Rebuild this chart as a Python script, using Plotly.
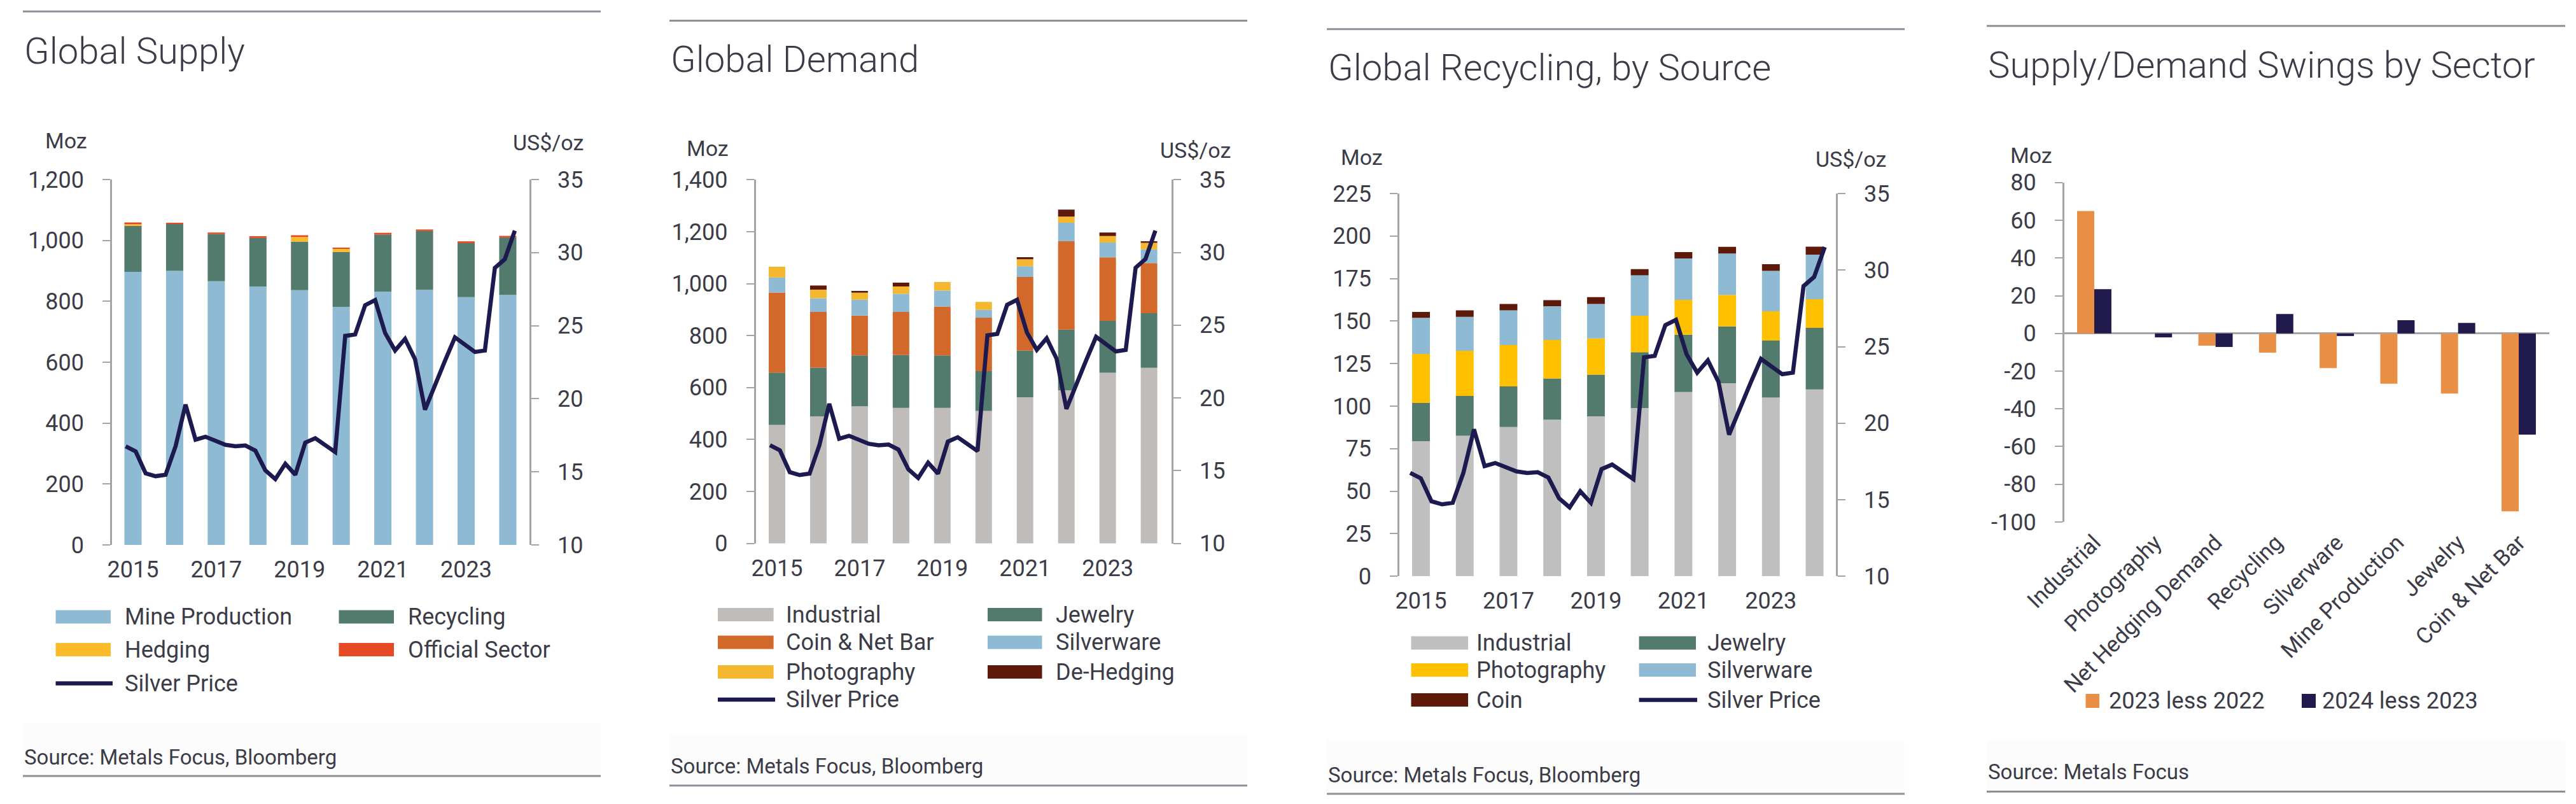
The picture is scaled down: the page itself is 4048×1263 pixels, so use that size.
import plotly.graph_objects as go

W, H = 4048, 1263

# ---------------- data ----------------
years = list(range(2015, 2025))
quarters = [f"Q{q} {y}" for y in years for q in range(1, 5)]
silver_price = [16.75, 16.4, 14.9, 14.7, 14.8, 16.75, 19.6, 17.2, 17.4, 17.1,
                16.85, 16.75, 16.8, 16.45, 15.1, 14.5, 15.55, 14.8, 17.0, 17.3,
                16.85, 16.35, 24.3, 24.4, 26.4, 26.75, 24.5, 23.3, 24.1, 22.7,
                19.25, 21.0, 22.6, 24.2, 23.7, 23.2, 23.3, 28.95, 29.55, 31.5]

supply_mine = [897, 900, 866, 849, 837, 782, 832, 838, 814, 821]
supply_recycling = [152, 154, 155, 159, 159, 180, 187, 193, 177, 189]
supply_hedging = [4, 0, 0, 0, 15, 12, 0, 0, 0, 0]
supply_official = [6, 4, 5, 6, 6, 1, 6, 5, 6, 5]

demand_industrial = [456, 489, 528, 522, 522, 510, 563, 589, 657, 676]
demand_jewelry = [202, 188, 196, 203, 202, 153, 179, 234, 200, 210]
demand_coin_bar = [308, 214, 153, 166, 188, 206, 284, 340, 244, 193]
demand_silverware = [58, 53, 61, 70, 61, 30, 41, 71, 57, 53]
demand_photography = [41, 33, 27, 28, 33, 31, 27, 24, 25, 25]
demand_dehedging = [0, 16, 7, 15, 0, 0, 8, 27, 14, 6]

recyc_industrial = [79.4, 82.6, 87.8, 92.1, 94.0, 98.9, 108.3, 113.5, 105.1, 109.8]
recyc_jewelry = [22.5, 23.4, 23.8, 24.2, 24.5, 32.8, 33.7, 33.4, 33.5, 36.2]
recyc_photography = [28.8, 26.6, 24.3, 22.6, 21.3, 21.5, 20.5, 18.5, 17.2, 16.9]
recyc_silverware = [21.2, 19.9, 20.4, 19.9, 20.3, 23.7, 24.3, 24.3, 23.7, 26.2]
recyc_coin = [3.5, 3.8, 3.8, 3.5, 4.0, 3.7, 3.8, 4.0, 4.0, 4.7]

swing_sectors = ["Industrial", "Photography", "Net Hedging Demand", "Recycling",
                 "Silverware", "Mine Production", "Jewelry", "Coin & Net Bar"]
swing_2023_less_2022 = [64.9, 0.0, -6.5, -10.2, -18.4, -26.7, -31.9, -94.4]
swing_2024_less_2023 = [23.5, -2.1, -7.2, 10.3, -1.4, 7.0, 5.6, -53.7]
swing_ticks = [80, 60, 40, 20, 0, -20, -40, -60, -80, -100]
swing_tick_labels = [str(v) for v in swing_ticks]

# ---------------- style ----------------
FONT = "Roboto, 'Noto Sans', sans-serif"
TXT = "#3c3c48"
AXC = "#a4a4a8"
RULE = "#8e8e96"
NAVY = "#1c1a4f"
BLUE = "#8fbad3"
GREEN = "#527b6d"
C_HEDGE = "#fbbb2b"
C_OFFICIAL = "#e64a24"
GREY = "#c0bcba"
GREY3 = "#bfbfbf"
C_COIN = "#d2692a"
C_PHOTO = "#f5b730"
C_PHOTO3 = "#ffc000"
BROWN = "#5d1a0b"
ORANGE4 = "#e98f45"
NAVY4 = "#211b4d"

TICK = 36
LEG = 36
SRC = 33
LINE_W = 6.5


def X(p):
    return p / W


def Y(p):
    return 1 - p / H


fig = go.Figure()


def add_stack(series, names, colors, width, xa, ya):
    base = [0.0] * len(years)
    for vals, name, col in zip(series, names, colors):
        fig.add_trace(go.Bar(x=years, y=vals, base=list(base), width=width, name=name,
                             marker=dict(color=col, line=dict(width=0)),
                             xaxis=xa, yaxis=ya, showlegend=False))
        base = [b + v for b, v in zip(base, vals)]


def add_price(xa, ya):
    fig.add_trace(go.Scatter(x=quarters, y=silver_price, mode="lines", name="Silver Price",
                             line=dict(color=NAVY, width=LINE_W), xaxis=xa, yaxis=ya,
                             showlegend=False))


# Panel 1
p1_names = ["Mine Production", "Recycling", "Hedging", "Official Sector"]
p1_colors = [BLUE, GREEN, C_HEDGE, C_OFFICIAL]
add_stack([supply_mine, supply_recycling, supply_hedging, supply_official],
          p1_names, p1_colors, 0.413, "x", "y")
add_price("x2", "y2")

# Panel 2
p2_names = ["Industrial", "Jewelry", "Coin & Net Bar", "Silverware", "Photography", "De-Hedging"]
p2_colors = [GREY, GREEN, C_COIN, BLUE, C_PHOTO, BROWN]
add_stack([demand_industrial, demand_jewelry, demand_coin_bar, demand_silverware,
           demand_photography, demand_dehedging], p2_names, p2_colors, 0.40, "x3", "y3")
add_price("x4", "y4")

# Panel 3
p3_names = ["Industrial", "Jewelry", "Photography", "Silverware", "Coin"]
p3_colors = [GREY3, GREEN, C_PHOTO3, BLUE, BROWN]
add_stack([recyc_industrial, recyc_jewelry, recyc_photography, recyc_silverware, recyc_coin],
          p3_names, p3_colors, 0.407, "x5", "y5")
add_price("x6", "y6")

# Panel 4
fig.add_trace(go.Bar(x=swing_sectors, y=swing_2023_less_2022, width=0.283, offset=-0.283,
                     name="2023 less 2022", marker=dict(color=ORANGE4, line=dict(width=0)),
                     xaxis="x7", yaxis="y7", showlegend=False))
fig.add_trace(go.Bar(x=swing_sectors, y=swing_2024_less_2023, width=0.283, offset=0,
                     name="2024 less 2023", marker=dict(color=NAVY4, line=dict(width=0)),
                     xaxis="x7", yaxis="y7", showlegend=False))


def yax(dom, rng, dtick, side="left", overlaying=None, anchor=None, tickformat=",",
        standoff=22):
    d = dict(domain=[Y(dom[1]), Y(dom[0])], range=rng, dtick=dtick, tick0=rng[0],
             showline=True, linecolor=AXC, linewidth=2.5, ticks="outside", ticklen=12,
             tickwidth=2, tickcolor=AXC, showgrid=False, zeroline=False, automargin=False,
             tickfont=dict(family=FONT, size=TICK, color=TXT), tickformat=tickformat,
             side=side, ticklabelstandoff=standoff, fixedrange=True)
    if overlaying:
        d["overlaying"] = overlaying
    if anchor:
        d["anchor"] = anchor
    return d


def xax(dom, rng, anchor, standoff=14):
    return dict(domain=[X(dom[0]), X(dom[1])], range=rng, tick0=2015, dtick=2,
                showline=False, ticks="", showgrid=False, zeroline=False, anchor=anchor,
                automargin=False,
                tickfont=dict(family=FONT, size=TICK, color=TXT), ticklabelstandoff=standoff,
                fixedrange=True)


def qax(rng, overlaying, anchor):
    return dict(type="category", range=rng, overlaying=overlaying, anchor=anchor,
                visible=False, automargin=False, fixedrange=True)


layout = dict(
    width=W, height=H, autosize=False,
    margin=dict(l=0, r=0, t=0, b=0, pad=0, autoexpand=False),
    paper_bgcolor="white", plot_bgcolor="rgba(0,0,0,0)", barmode="overlay",
    font=dict(family=FONT, color=TXT), showlegend=False,
    # panel 1
    xaxis=xax((176, 832), [2014.496, 2024.52], "y"),
    yaxis=yax((282, 856), [0, 1200], 200, anchor="x"),
    xaxis2=qax([-1.371, 40.467], "x", "y2"),
    yaxis2=yax((282, 856), [10, 35], 5, side="right", overlaying="y", anchor="x",
               tickformat="d"),
    # panel 2
    xaxis3=xax((1187.5, 1841), [2014.484, 2024.545], "y3"),
    yaxis3=yax((282.3, 853.7), [0, 1400], 200, anchor="x3"),
    xaxis4=qax([-1.449, 40.636], "x3", "y4"),
    yaxis4=yax((282.3, 853.7), [10, 35], 5, side="right", overlaying="y3", anchor="x3",
               tickformat="d"),
    # panel 3
    xaxis5=xax((2199, 2885), [2014.505, 2024.487], "y5"),
    yaxis5=yax((304, 905.3), [0, 225], 25, anchor="x5"),
    xaxis6=qax([-1.018, 40.048], "x5", "y6"),
    yaxis6=yax((304, 905.3), [10, 35], 5, side="right", overlaying="y5", anchor="x5",
               tickformat="d"),
    # panel 4
    xaxis7=dict(domain=[X(3243.6), X(4006)], range=[-0.497, 7.504], type="category",
                showline=False, ticks="", showgrid=False, zeroline=False, anchor="y7",
                automargin=False,
                tickangle=-45, tickfont=dict(family=FONT, size=35, color=TXT),
                ticklabelstandoff=4, fixedrange=True),
    yaxis7=dict(domain=[Y(819.9), Y(286.8)], range=[-100, 80], tickvals=swing_ticks,
                ticktext=swing_tick_labels, showline=True, linecolor=AXC, linewidth=2.5,
                ticks="outside", ticklen=12, tickwidth=2, tickcolor=AXC, showgrid=False,
                zeroline=True, zerolinecolor=AXC, zerolinewidth=2.5, anchor="x7",
                automargin=False,
                tickfont=dict(family=FONT, size=TICK, color=TXT), ticklabelstandoff=22,
                fixedrange=True),
)

shapes = []
annotations = []


def text(s, x, y, size, anchor="left", weight=None):
    f = dict(family=FONT, size=size, color=TXT)
    if weight:
        f["weight"] = weight
    annotations.append(dict(text=s, x=X(x), y=Y(y), xref="paper", yref="paper",
                            xanchor=anchor, yanchor="middle", showarrow=False, font=f))


def hline(x0, x1, y, color, width):
    shapes.append(dict(type="line", xref="paper", yref="paper", x0=X(x0), x1=X(x1),
                       y0=Y(y), y1=Y(y), line=dict(color=color, width=width)))


def rect(x0, x1, y0, y1, color, layer="below"):
    shapes.append(dict(type="rect", xref="paper", yref="paper", x0=X(x0), x1=X(x1),
                       y0=Y(y1), y1=Y(y0), fillcolor=color, line=dict(width=0),
                       layer=layer))


panels = [
    dict(title="Global Supply", l=36, r=944, top=18, bot=1219, ty=80,
         src="Source: Metals Focus, Bloomberg", sy=1189.5, band=(1137, 1217)),
    dict(title="Global Demand", l=1052, r=1960, top=32.6, bot=1234, ty=93.4,
         src="Source: Metals Focus, Bloomberg", sy=1203.5, band=(1154, 1232)),
    dict(title="Global Recycling, by Source", l=2085, r=2993, top=45.7, bot=1247, ty=106.5,
         src="Source: Metals Focus, Bloomberg", sy=1217.5, band=(1164, 1245)),
    dict(title="Supply/Demand Swings by Sector", l=3122, r=4031, top=40.8, bot=1243.5,
         ty=101.6, src="Source: Metals Focus", sy=1212.5, band=(1162, 1241)),
]
for p in panels:
    rect(p["l"], p["r"], p["band"][0], p["band"][1], "#fcfcfd")
    hline(p["l"], p["r"], p["top"], RULE, 3)
    hline(p["l"], p["r"], p["bot"], RULE, 3)
    text(p["title"], p["l"], p["ty"], 58, weight=300)
    text(p["src"], p["l"], p["sy"], SRC)

# unit labels
text("Moz", 69, 221, 34)
text("US$/oz", 919, 224, 34, anchor="right")
text("Moz", 1077, 233, 34)
text("US$/oz", 1936, 236, 34, anchor="right")
text("Moz", 2105, 247.5, 34)
text("US$/oz", 2966, 250, 34, anchor="right")
text("Moz", 3157, 244, 34)


def leg_box(name, color, x0, x1, yc, h, tx):
    rect(x0, x1, yc - h / 2, yc + h / 2, color, layer="above")
    text(name, tx, yc, LEG)


def leg_line(name, x0, x1, yc, tx):
    hline(x0, x1, yc, NAVY, LINE_W)
    text(name, tx, yc, LEG)


# Panel 1 legend
c1 = (87.5, 174, 194)
c2 = (532.5, 619, 639)
leg_box(p1_names[0], p1_colors[0], c1[0], c1[1], 969, 21, c1[2])
leg_box(p1_names[1], p1_colors[1], c2[0], c2[1], 969, 21, c2[2])
leg_box(p1_names[2], p1_colors[2], c1[0], c1[1], 1020.5, 21, c1[2])
leg_box(p1_names[3], p1_colors[3], c2[0], c2[1], 1020.5, 21, c2[2])
leg_line("Silver Price", c1[0], 177, 1073.5, c1[2])

# Panel 2 legend
c1 = (1128, 1215.6, 1233)
c2 = (1552, 1637.5, 1657)
rows = [965.5, 1009, 1055.5, 1099]
for i, (nm, col) in enumerate(zip(p2_names, p2_colors)):
    c = c1 if i % 2 == 0 else c2
    leg_box(nm, col, c[0], c[1], rows[i // 2], 21, c[2])
leg_line("Silver Price", c1[0], 1218, rows[3], c1[2])

# Panel 3 legend
c1 = (2217.5, 2307, 2317.5)
c2 = (2575.6, 2665, 2680.6)
rows = [1010, 1052.5, 1099.5]
for i, (nm, col) in enumerate(zip(p3_names, p3_colors)):
    c = c1 if i % 2 == 0 else c2
    leg_box(nm, col, c[0], c[1], rows[i // 2], 21, c[2])
leg_line("Silver Price", c2[0], 2667, rows[2], c2[2])

# Panel 4 legend
leg_box("2023 less 2022", ORANGE4, 3277.5, 3299, 1101, 22, 3311.5)
leg_box("2024 less 2023", NAVY4, 3617, 3639, 1101, 22, 3646.7)

layout["shapes"] = shapes
layout["annotations"] = annotations
fig.update_layout(**layout)

fig.write_html("out.html")
